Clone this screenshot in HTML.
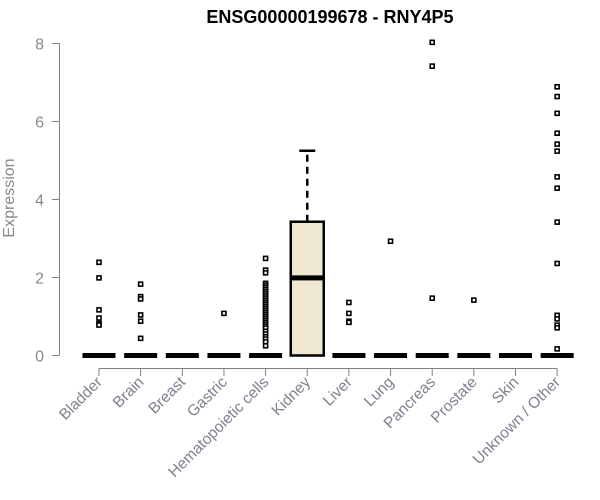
<!DOCTYPE html>
<html><head><meta charset="utf-8"><style>
body{margin:0;background:#fff}
svg{display:block;font-family:"Liberation Sans",Arial,sans-serif}
</style></head><body>
<svg id="chart" width="600" height="500" viewBox="0 0 600 500">
<text x="330" y="23" text-anchor="middle" font-weight="bold" font-size="18">ENSG00000199678 - RNY4P5</text>
<text transform="translate(14,198) rotate(-90)" text-anchor="middle" font-size="16" fill="#8a8a8a">Expression</text>
<g id="yaxis"></g>
<g id="xaxis"></g>
<g id="boxes"></g>
<g id="points"></g>
</svg>
<script>
const categories=["Bladder","Brain","Breast","Gastric","Hematopoietic cells","Kidney","Liver","Lung","Pancreas","Prostate","Skin","Unknown / Other"];
const q1=[0,0,0,0,0,0,0,0,0,0,0,0];
const medians=[0,0,0,0,0,1.99,0,0,0,0,0,0];
const q3=[0,0,0,0,0,3.43,0,0,0,0,0,0];
const whiskLow=[0,0,0,0,0,0,0,0,0,0,0,0];
const whiskHigh=[0,0,0,0,0,5.25,0,0,0,0,0,0];
const outliers=[
[2.39,1.99,1.17,0.96,0.82,0.78],
[1.83,1.51,1.45,1.04,0.88,0.44],
[],
[1.08],
[2.49,2.19,2.12,1.85,1.8,1.75,1.7,1.65,1.6,1.55,1.5,1.45,1.4,1.35,1.3,1.25,1.2,1.15,1.1,1.05,1.0,0.95,0.9,0.85,0.8,0.75,0.7,0.62,0.55,0.48,0.42,0.35,0.25],
[],
[1.36,1.08,0.88,0.85],
[2.93],
[8.03,7.42,1.47],
[1.42],
[],
[6.89,6.64,6.21,5.70,5.42,5.24,4.58,4.29,3.42,2.36,1.03,0.94,0.78,0.71,0.17]];
const yTicks=[0,2,4,6,8];
const NS="http://www.w3.org/2000/svg";
const y=v=>355.5-v*39.0;
const x=i=>99+i*41.65;
function mk(tag,at,parent){const e=document.createElementNS(NS,tag);for(const k in at)e.setAttribute(k,at[k]);parent.appendChild(e);return e;}
const ya=document.getElementById('yaxis'),xa=document.getElementById('xaxis'),bx=document.getElementById('boxes'),pt=document.getElementById('points');
let l=mk('line',{x1:59.5,x2:59.5,y1:y(8),y2:y(0),stroke:'#808080'},ya);


yTicks.forEach(t=>{
 let tk=mk('line',{x1:52,x2:59.5,y1:y(t),y2:y(t),stroke:'#808080'},ya);
 
 
 let tx=mk('text',{x:44,y:y(t)+6,'text-anchor':'end','font-size':16,fill:'#8a8a8a'},ya);
 tx.textContent=t;
 
 
});
l=mk('line',{x1:x(0),x2:x(categories.length-1),y1:368.5,y2:368.5,stroke:'#808080'},xa);


categories.forEach((c,i)=>{
 let tk=mk('line',{x1:x(i),x2:x(i),y1:368.5,y2:376,stroke:'#808080'},xa);
 
 
 let tx=mk('text',{transform:`translate(${x(i)+4},383) rotate(-45)`,'text-anchor':'end','font-size':15.5,fill:'#808090'},xa);
 tx.textContent=c;
 
 
 const g=mk('g',{},bx);
 
 
 const cx=x(i),hw=16.5;
 if(q3[i]>q1[i]){
  mk('line',{x1:cx,x2:cx,y1:y(q3[i]),y2:y(whiskHigh[i]),stroke:'#000','stroke-width':2.5,'stroke-dasharray':'7,5'},g);
  mk('line',{x1:cx-8,x2:cx+8,y1:y(whiskHigh[i]),y2:y(whiskHigh[i]),stroke:'#000','stroke-width':2.5},g);
  mk('rect',{x:cx-hw,y:y(q3[i]),width:hw*2,height:y(q1[i])-y(q3[i]),fill:'#ede8cf',stroke:'#000','stroke-width':2.5},g);
 }
 mk('rect',{x:cx-hw,y:y(medians[i])-2.5,width:hw*2,height:5,fill:'#000'},g);
 outliers[i].forEach(v=>{
  const p=mk('rect',{x:cx-2,y:y(v)-2,width:4,height:4,fill:'#fff',stroke:'#000','stroke-width':1.6},pt);
  
  
 });
});
</script>
</body></html>
